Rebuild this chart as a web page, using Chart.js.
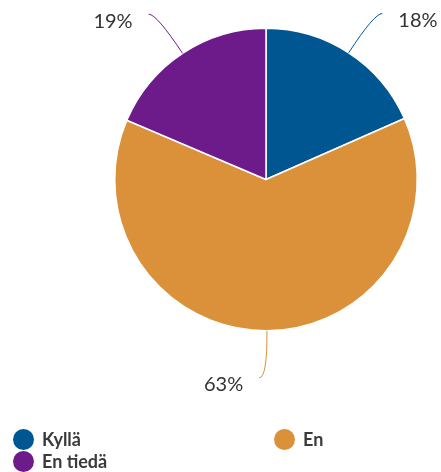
<!DOCTYPE html>
<html>
<head>
<meta charset="utf-8">
<script src="https://cdn.jsdelivr.net/npm/chart.js@4/dist/chart.umd.min.js"></script>
<style>
  html, body { margin: 0; padding: 0; background: #fff; }
  #wrap { position: relative; width: 441px; height: 472px; overflow: hidden; }
  canvas { position: absolute; left: 0; top: 0; }
  #legend { position: absolute; left: 0; top: 0; width: 441px; height: 472px; pointer-events: none;
            font-family: Lato, "Open Sans", sans-serif; font-weight: 700; font-size: 18px; color: #3a3a3a; }
  .item { position: absolute; height: 22px; line-height: 22px; white-space: nowrap; }
  .dot { position: absolute; width: 21px; height: 21px; border-radius: 50%; left: 0; top: 0; }
  .lab { position: absolute; left: 29px; top: -1px; }
</style>
</head>
<body>
<div id="wrap">
  <canvas id="c" width="441" height="472"></canvas>
  <div id="legend"></div>
</div>
<script>
const categories = ["Kyllä", "En", "En tiedä"];
const values = [18.4, 63.0, 18.6];
const sliceColors = ["#005691", "#da9139", "#6d1a8b"];

const leaderPlugin = {
  id: 'leaders',
  afterDatasetsDraw(chart) {
    const ctx = chart.ctx;
    const meta = chart.getDatasetMeta(0);
    const ds = chart.data.datasets[0];
    meta.data.forEach((arc, i) => {
      const p = arc.getProps(['x', 'y', 'startAngle', 'endAngle', 'outerRadius'], true);
      const mid = (p.startAngle + p.endAngle) / 2;
      const cx = Math.cos(mid), cy = Math.sin(mid);
      const side = cx > 0.1 ? 1 : -1;
      const x0 = p.x + cx * p.outerRadius, y0 = p.y + cy * p.outerRadius;
      const x1 = x0 + cx * 47, y1 = y0 + cy * 47;
      const x2 = x1 + side * 8, y2 = y1;
      ctx.save();
      ctx.strokeStyle = ds.backgroundColor[i];
      ctx.lineWidth = 1;
      ctx.beginPath();
      ctx.moveTo(x0, y0);
      ctx.quadraticCurveTo(x1, y1, x2, y2);
      ctx.stroke();
      ctx.fillStyle = '#333333';
      ctx.font = '20px Lato, "Open Sans", sans-serif';
      ctx.textAlign = side > 0 ? 'left' : 'right';
      ctx.textBaseline = 'middle';
      ctx.fillText(Math.round(ds.data[i]) + '%', x2 + side * 16, y2 + 7);
      ctx.restore();
    });
  }
};

const chart = new Chart(document.getElementById('c'), {
  type: 'pie',
  data: {
    labels: categories,
    datasets: [{
      data: values,
      backgroundColor: sliceColors,
      borderColor: '#ffffff',
      borderWidth: 1.5,
      hoverOffset: 0
    }]
  },
  options: {
    responsive: false,
    animation: false,
    layout: { padding: { left: 114, right: 23, top: 27, bottom: 140 } },
    plugins: {
      legend: { display: false },
      tooltip: { enabled: false }
    }
  },
  plugins: [leaderPlugin]
});

// HTML legend built from the chart's own data
const legendPos = [[13, 429], [274, 429], [13, 451]];
const legendEl = document.getElementById('legend');
categories.forEach((c, i) => {
  const it = document.createElement('div');
  it.className = 'item';
  it.style.left = legendPos[i][0] + 'px';
  it.style.top = legendPos[i][1] + 'px';
  const d = document.createElement('span');
  d.className = 'dot';
  d.style.background = sliceColors[i];
  const l = document.createElement('span');
  l.className = 'lab';
  l.textContent = c;
  it.appendChild(d); it.appendChild(l);
  legendEl.appendChild(it);
});
</script>
</body>
</html>
